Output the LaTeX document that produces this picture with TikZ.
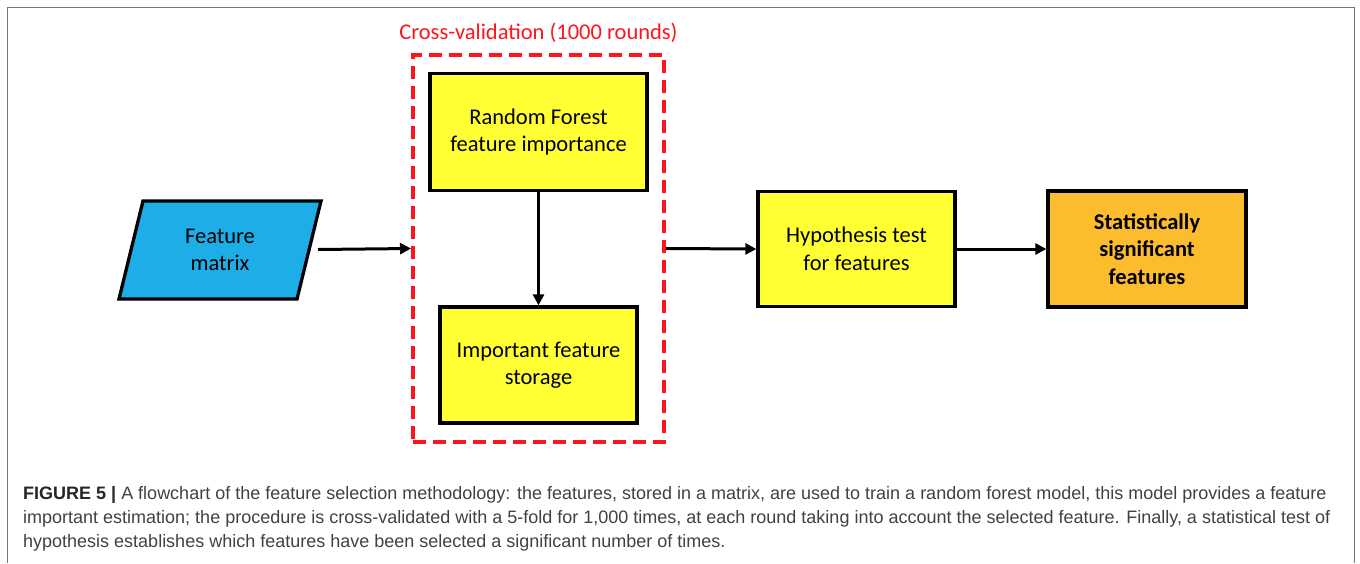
\documentclass[tikz,border=0pt]{standalone}
\usepackage{fontspec}
\setmainfont{Carlito}
\newfontfamily\capfont{Liberation Sans}
\usetikzlibrary{arrows.meta}
\definecolor{boxyellow}{RGB}{255,255,51}
\definecolor{featblue}{RGB}{29,174,232}
\definecolor{statorange}{RGB}{251,189,46}
\definecolor{cvred}{RGB}{255,20,30}
\definecolor{capgray}{RGB}{65,65,65}
\definecolor{framegray}{RGB}{120,120,120}
\begin{document}
\begin{tikzpicture}[x=1pt,y=-1pt,
  procbox/.style={draw=black, line width=3.3pt, fill=boxyellow, align=center,
    font=\fontsize{22.5}{27.5}\selectfont, inner sep=0pt},
  flow/.style={line width=3pt, -{Triangle[length=11pt,width=11pt]}},
  capline/.style={anchor=base west, inner sep=0pt,
    font=\capfont\fontsize{18}{24}\selectfont, text=capgray}]
\useasboundingbox (0,0) rectangle (1360,563);
\draw[framegray, line width=1.5pt] (7.5,563) -- (7.5,7.5) -- (1354.5,7.5) -- (1354.5,563);

% input parallelogram
\draw[line width=3.3pt, fill=featblue, line join=miter]
  (143,201) -- (321,201) -- (297,299) -- (119,299) -- cycle;
\node[align=center, font=\fontsize{22.5}{27.5}\selectfont] (feat) at (220,250) {Feature\\matrix};
\coordinate (featout) at (318,249.5);

% cross-validation frame
\node[draw=cvred, line width=4pt, dash pattern=on 13pt off 7pt,
  minimum width=251pt, minimum height=387pt, inner sep=0pt] (cv) at (538.5,248.5) {};
\node[text=cvred, font=\fontsize{22.5}{27.5}\selectfont] (cvtitle) at (538.5,33) {Cross-validation (1000 rounds)};

\node[procbox, minimum width=217pt, minimum height=117pt] (rf) at (538.5,132) {Random Forest\\feature importance};
\node[procbox, minimum width=197pt, minimum height=116pt] (ifs) at (538.5,365) {Important feature\\storage};
\node[procbox, minimum width=197pt, minimum height=115pt] (hyp) at (856.5,249) {Hypothesis test\\for features};
\node[procbox, fill=statorange, font=\bfseries\fontsize{22.5}{27.5}\selectfont,
  minimum width=198pt, minimum height=116pt] (stat) at (1147,249) {Statistically\\significant\\features};

\draw[flow] (featout) -- (cv.west);
\draw[flow] (rf.south) -- (ifs.north);
\draw[flow] (cv.east) -- (hyp.west);
\draw[flow] (hyp.east) -- (stat.west);

% caption
\node[capline] (cap1) at (23,499) {{\color{black!85}\bfseries FIGURE 5 |} A flowchart of the feature selection methodology: the features, stored in a matrix, are used to train a random forest model, this model provides a feature};
\node[capline] (cap2) at (23,523) {important estimation; the procedure is cross-validated with a 5-fold for 1,000 times, at each round taking into account the selected feature. Finally, a statistical test of};
\node[capline] (cap3) at (23,547) {hypothesis establishes which features have been selected a significant number of times.};
\end{tikzpicture}
\end{document}
